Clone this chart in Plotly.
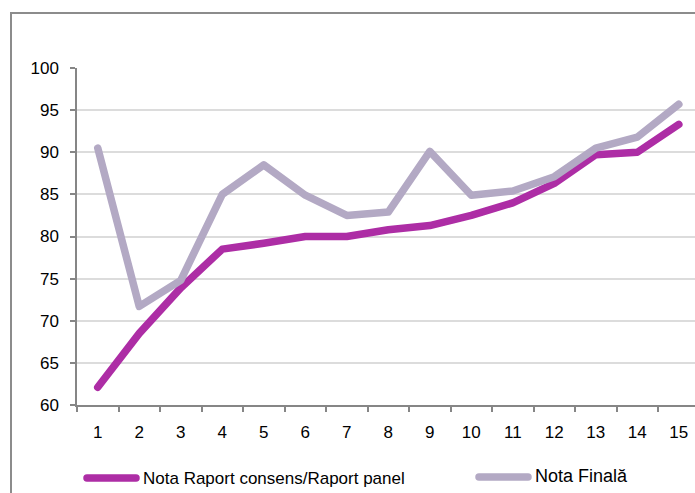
import plotly.graph_objects as go

categories = [str(i) for i in range(1, 16)]
nota_raport = [62.1, 68.5, 73.9, 78.5, 79.2, 80.0, 80.0, 80.8, 81.3, 82.5, 84.0, 86.3, 89.7, 90.0, 93.3]
nota_finala = [90.5, 71.7, 74.8, 85.0, 88.5, 84.9, 82.5, 82.9, 90.1, 84.9, 85.4, 87.1, 90.5, 91.8, 95.7]
y_ticks = [60, 65, 70, 75, 80, 85, 90, 95, 100]
series_names = ["Nota Raport consens/Raport panel", "Nota Finală"]
colors = ["#AD2DA5", "#B3A9C4"]

FONT = "Liberation Sans, Arial, sans-serif"

fig = go.Figure()
fig.add_trace(go.Scatter(x=categories, y=nota_raport, mode="lines", name=series_names[0],
                         line=dict(color=colors[0], width=7.5), showlegend=False))
fig.add_trace(go.Scatter(x=categories, y=nota_finala, mode="lines", name=series_names[1],
                         line=dict(color=colors[1], width=7.5), showlegend=False))

# plot area in pixels: x 77..695, y 68..405
def px(xp):
    return (xp - 77) / 618.0

def py(yp):
    return (405 - yp) / 337.0

shapes = [
    # outer frame (top/left visible)
    dict(type="rect", xref="paper", yref="paper", x0=px(11), x1=1.3, y0=-0.6, y1=py(13),
         line=dict(color="#8C8C8C", width=2), fillcolor="rgba(0,0,0,0)", layer="below"),
    # legend samples
    dict(type="line", xref="paper", yref="paper", x0=px(87), x1=px(136), y0=py(478), y1=py(478),
         line=dict(color=colors[0], width=7.5)),
    dict(type="line", xref="paper", yref="paper", x0=px(479), x1=px(528), y0=py(477), y1=py(477),
         line=dict(color=colors[1], width=7.5)),
]
annotations = [
    dict(xref="paper", yref="paper", x=px(141), y=py(478), text=series_names[0], showarrow=False,
         xanchor="left", yanchor="middle", font=dict(family=FONT, size=17, color="#000000")),
    dict(xref="paper", yref="paper", x=px(533), y=py(476), text=series_names[1], showarrow=False,
         xanchor="left", yanchor="middle", font=dict(family=FONT, size=18, color="#000000")),
]

fig.update_layout(
    width=695, height=493,
    margin=dict(l=77, r=0, t=68, b=88),
    paper_bgcolor="white", plot_bgcolor="white",
    font=dict(family=FONT, size=17, color="#000000"),
    shapes=shapes, annotations=annotations,
    showlegend=False,
)
fig.update_xaxes(type="category", range=[-0.5, 14.39], tickson="boundaries", ticks="outside",
                 ticklen=5, tickcolor="#868686", tickwidth=1.5, showline=True, linecolor="#868686",
                 linewidth=1.5, showgrid=False, tickfont=dict(size=17), ticklabelstandoff=11)
fig.update_yaxes(range=[60, 100], tickvals=y_ticks, ticks="outside", ticklen=5, tickcolor="#868686",
                 tickwidth=1.5, showline=True, linecolor="#868686", linewidth=1.5, showgrid=True,
                 gridcolor="#DCDCDC", gridwidth=1.5, zeroline=False, tickfont=dict(size=17),
                 ticklabelstandoff=8)

post = (
    "document.body.style.margin='0';document.body.style.overflow='hidden';"
    "document.querySelectorAll('.js-line, .shapelayer path').forEach(function(p){"
    "p.style.strokeLinecap='round';p.style.strokeLinejoin='round';});"
    "document.querySelectorAll('.shapelayer path').forEach(function(p,i){if(i===0){p.style.strokeLinecap='butt';p.style.strokeLinejoin='miter';}});"
)
fig.write_html("out.html", config={"displayModeBar": False}, post_script=post)
